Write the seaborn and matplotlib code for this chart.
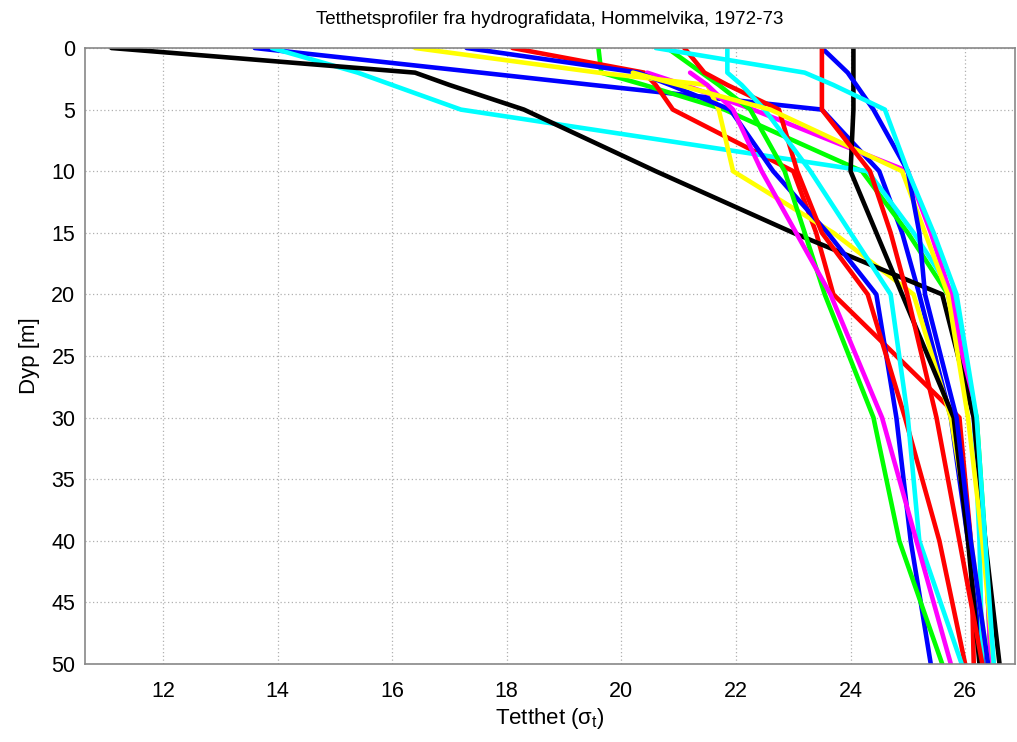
import numpy as np
import pandas as pd
import matplotlib
matplotlib.use("Agg")
import matplotlib.pyplot as plt
import seaborn as sns

depths = [0, 2, 3, 5, 10, 15, 20, 30, 40, 50]
nan = np.nan

blue_a = [13.6, 17.55, 19.5, 23.5, 24.5, 24.9, 25.2, 25.75, 26.05, 26.35]
green_a = [19.6, 19.65, 20.4, 21.8, 24.2, 25.0, 25.7, 26.2, 26.35, 26.45]
red_a = [18.1, 20.4, 20.6, 20.9, 23.0, 23.4, 23.7, 25.9, 26.1, 26.15]
cyan_a = [13.9, 15.4, 16.0, 17.2, 24.3, 25.1, 25.8, 26.15, 26.25, 26.3]
magenta_a = [nan, 20.45, 21.1, 22.3, 25.0, 25.4, 25.75, 26.15, 26.35, 26.45]
yellow_a = [16.4, 19.6, 21.5, 21.7, 21.95, 23.7, 25.1, 25.75, 26.1, 26.4]
black_a = [11.1, 16.4, 17.0, 18.3, 20.6, 23.0, 25.6, 26.15, 26.35, 26.6]
blue_b = [17.3, 20.3, 20.85, 21.9, 22.65, 23.6, 24.45, 24.8, 25.05, 25.4]
red_b = [21.1, 21.45, 21.85, 22.75, 23.07, 23.5, 24.3, 24.95, 25.55, 26.0]
green_b = [20.8, 21.4, 21.7, 22.25, 22.85, 23.2, 23.55, 24.4, 24.85, 25.6]
cyan_b = [20.6, 23.2, 23.7, 24.6, 25.0, 25.45, 25.85, 26.2, 26.35, 26.5]
magenta_b = [nan, 21.2, 21.5, 21.95, 22.45, 23.05, 23.65, 24.55, 25.15, 25.75]
yellow_b = [nan, 20.2, 21.0, 22.6, 24.9, 25.3, 25.7, 26.05, 26.3, 26.5]
cyan_c = [21.85, 21.85, 22.1, 22.5, 23.3, 24.0, 24.7, 25.0, 25.2, 25.94]
black_b = [24.05, 24.05, 24.05, 24.05, 24.0, 24.45, 24.9, 25.8, 26.05, 26.25]
red_c = [23.5, 23.5, 23.5, 23.5, 24.34, 24.7, 24.99, 25.5, 25.9, 26.3]
blue_c = [23.5, 23.95, 24.1, 24.4, 25.0, 25.2, 25.3, 25.85, 26.1, 26.4]

profiles = {
    "p01": (blue_a, "#0000ff"),
    "p02": (green_a, "#00ff00"),
    "p03": (red_a, "#ff0000"),
    "p04": (cyan_a, "#00ffff"),
    "p05": (magenta_a, "#ff00ff"),
    "p06": (yellow_a, "#ffff00"),
    "p07": (black_a, "#000000"),
    "p08": (blue_b, "#0000ff"),
    "p09": (green_b, "#00ff00"),
    "p10": (red_b, "#ff0000"),
    "p11": (cyan_c, "#00ffff"),
    "p12": (magenta_b, "#ff00ff"),
    "p13": (yellow_b, "#ffff00"),
    "p14": (black_b, "#000000"),
    "p15": (blue_c, "#0000ff"),
    "p16": (red_c, "#ff0000"),
    "p17": (cyan_b, "#00ffff"),
}

rows = []
for name, (vals, col) in profiles.items():
    for d, v in zip(depths, vals):
        if not np.isnan(v):
            rows.append({"profile": name, "depth": d, "sigma": v})
df = pd.DataFrame(rows)
palette = {name: col for name, (vals, col) in profiles.items()}

sns.set_style("white")
plt.rcParams["font.family"] = ["Liberation Sans", "DejaVu Sans"]
plt.rcParams["mathtext.fontset"] = "custom"
plt.rcParams["mathtext.rm"] = "Liberation Sans"
plt.rcParams["mathtext.it"] = "Liberation Sans"
plt.rcParams["text.color"] = "black"
plt.rcParams["axes.labelcolor"] = "black"
plt.rcParams["xtick.color"] = "black"
plt.rcParams["ytick.color"] = "black"

fig = plt.figure(figsize=(10.17, 7.42), dpi=100)
ax = fig.add_axes([85 / 1017, 1 - 664 / 742, 930 / 1017, (664 - 48) / 742])

sns.lineplot(data=df, x="sigma", y="depth", hue="profile", palette=palette,
             units="profile", estimator=None, sort=False, legend=False,
             linewidth=3.3, ax=ax)

ax.set_xlim(10.64, 26.87)
ax.set_ylim(50, 0)
ax.set_xticks(np.arange(12, 27, 2))
ax.set_yticks(np.arange(0, 51, 5))
ax.grid(True, color="#b0b0b0", linestyle=(0, (1, 2)), linewidth=0.9)
ax.set_axisbelow(True)
ax.tick_params(direction="in", length=6, width=1, labelsize=15.5,
               top=False, right=False)
ax.tick_params(axis="x", pad=12)
ax.tick_params(axis="y", pad=7)
for s in ax.spines.values():
    s.set_color("#888888")
    s.set_linewidth(1.2)
ax.set_xlabel(r"Tetthet ($\sigma_t$)", fontsize=16, labelpad=3)
ax.set_ylabel("Dyp [m]", fontsize=16, labelpad=8)
ax.set_title("Tetthetsprofiler fra hydrografidata, Hommelvika, 1972-73",
             fontsize=13.5, pad=17)

fig.savefig("out.png", dpi=100)
